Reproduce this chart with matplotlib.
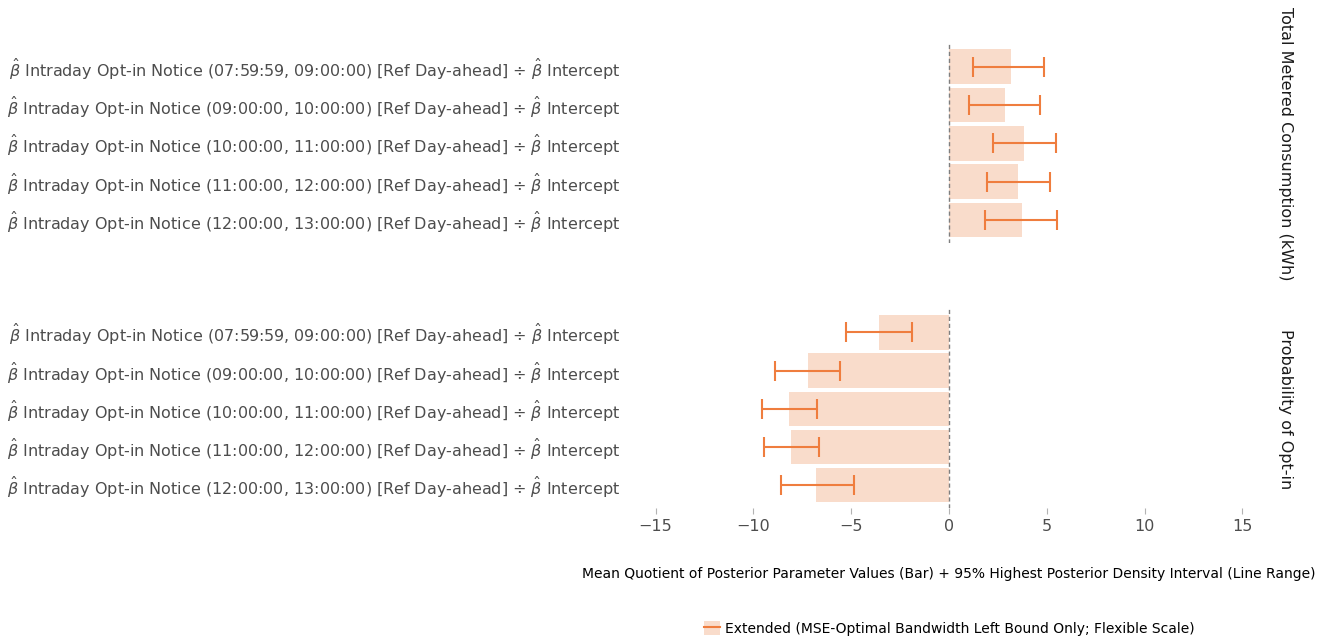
import matplotlib
matplotlib.use("Agg")
import matplotlib.pyplot as plt
from matplotlib.patches import Patch
from matplotlib.lines import Line2D

windows = ["(07:59:59, 09:00:00)", "(09:00:00, 10:00:00)", "(10:00:00, 11:00:00)",
           "(11:00:00, 12:00:00)", "(12:00:00, 13:00:00)"]
labels = [r"$\hat{\beta}$ Intraday Opt-in Notice " + w + r" [Ref Day-ahead] ÷ $\hat{\beta}$ Intercept"
          for w in windows]

facets = ["Total Metered Consumption (kWh)", "Probability of Opt-in"]

# mean quotient and 95% HPD interval, per facet
cons_mean = [3.16, 2.86, 3.83, 3.52, 3.72]
cons_lo = [1.22, 1.02, 2.24, 1.94, 1.84]
cons_hi = [4.85, 4.64, 5.46, 5.15, 5.51]

opt_mean = [-3.58, -7.20, -8.17, -8.07, -6.80]
opt_lo = [-5.26, -8.88, -9.56, -9.47, -8.58]
opt_hi = [-1.89, -5.57, -6.77, -6.67, -4.86]

bar_color = "#f9dccb"
line_color = "#ef7d3e"
text_grey = "#4d4d4d"

fig = plt.figure(figsize=(13.29, 6.38), dpi=100)
ax_top = fig.add_axes([0.4786, 0.619, 0.471, 0.3125])
ax_bot = fig.add_axes([0.4786, 0.2035, 0.471, 0.3115])

data = [(cons_mean, cons_lo, cons_hi), (opt_mean, opt_lo, opt_hi)]
for ax, (m, lo, hi), name in zip([ax_top, ax_bot], data, facets):
    y = list(range(len(labels)))
    ax.barh(y, m, height=0.9, color=bar_color, zorder=2)
    ax.hlines(y, lo, hi, color=line_color, linewidth=1.5, zorder=3)
    ax.plot(lo, y, linestyle="none", marker="|", markersize=14, mew=1.5, color=line_color, zorder=3)
    ax.plot(hi, y, linestyle="none", marker="|", markersize=14, mew=1.5, color=line_color, zorder=3)
    ax.axvline(0, color="#7f7f7f", linestyle=(0, (3, 2)), linewidth=1, zorder=4)
    ax.set_xlim(-16, 16)
    ax.set_ylim(len(labels) - 0.4, -0.6)
    ax.set_yticks(y)
    ax.set_yticklabels(labels, fontsize=11.5, color=text_grey)
    ax.tick_params(axis="y", length=0, pad=11)
    ax.set_xticks([-15, -10, -5, 0, 5, 10, 15])
    ax.tick_params(axis="x", length=4, color="#b3b3b3", labelsize=11.5, labelcolor=text_grey)
    for s in ax.spines.values():
        s.set_visible(False)
    ax.text(1.038, 0.5, name, transform=ax.transAxes, rotation=270,
            ha="center", va="center", fontsize=11.5, color="#1a1a1a")

ax_top.tick_params(axis="x", labelbottom=False, length=0)
ax_bot.set_xticklabels(["\u221215", "\u221210", "\u22125", "0", "5", "10", "15"])

fig.text(0.714, 0.101, "Mean Quotient of Posterior Parameter Values (Bar) + 95% Highest Posterior Density Interval (Line Range)",
         ha="center", va="center", fontsize=10, color="black")

handle = (Patch(facecolor=bar_color, edgecolor="none"), Line2D([0], [0], color=line_color, linewidth=1.5))
fig.legend([handle], ["Extended (MSE-Optimal Bandwidth Left Bound Only; Flexible Scale)"],
           loc="center", bbox_to_anchor=(0.714, 0.015), frameon=False, fontsize=10,
           handlelength=1.2, handleheight=1.2, handletextpad=0.3)

fig.savefig("out.png", dpi=100)
